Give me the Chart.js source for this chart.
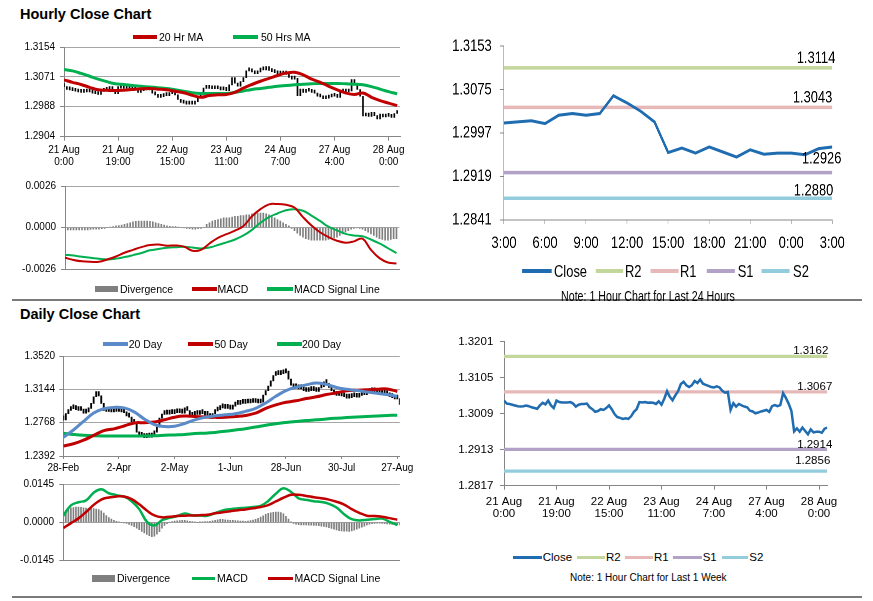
<!DOCTYPE html>
<html>
<head>
<meta charset="utf-8">
<script src="https://cdn.jsdelivr.net/npm/chart.js@4.4.1/dist/chart.umd.min.js"></script>
<style>
  html, body { margin:0; padding:0; background:#fff; }
  body { position:relative; width:873px; height:601px; overflow:hidden; font-family:"Liberation Sans", Arial, Helvetica, sans-serif; color:#000; }
  canvas { position:absolute; }
  .t { position:absolute; white-space:nowrap; }
  .sep { position:absolute; left:12px; width:850px; height:1.5px; background:#7a7a7a; }
</style>
</head>
<body>
<div class="t" style="left:20px;top:6.5px;font-size:14.5px;line-height:14.5px;font-weight:bold;">Hourly Close Chart</div>
<div class="t" style="left:20px;top:306.5px;font-size:14.5px;line-height:14.5px;font-weight:bold;">Daily Close Chart</div>
<div class="sep" style="top:299px"></div>
<div class="sep" style="top:596px"></div>
<div id="tr" style="position:absolute;left:440px;top:0;width:553px;height:305px;transform:scaleX(0.76);transform-origin:0 0;"></div>
<script>
// ================= DATA =================
// Hourly (21 Aug 0:00 -> 28 Aug 3:00), one value per hour
const hourTickIdx = [0, 19, 38, 57, 76, 95, 114];
const hourTickLabels = [['21 Aug','0:00'],['21 Aug','19:00'],['22 Aug','15:00'],['23 Aug','11:00'],['24 Aug','7:00'],['27 Aug','4:00'],['28 Aug','0:00']];
const hourlyClose = [
  1.3044,1.3036,1.3035,1.3033,1.3031,1.3029,1.3028,1.3029,1.3031,1.3029,
  1.3026,1.3024,1.3022,1.3031,1.3038,1.3034,1.3044,1.3031,1.3024,1.3044,
  1.3040,1.3039,1.3039,1.3039,1.3040,1.3036,1.3028,1.3033,1.3035,1.3035,
  1.3036,1.3026,1.3021,1.3014,1.3016,1.3021,1.3019,1.3024,1.3031,1.3021,
  1.3008,1.3000,1.2998,1.2995,1.2997,1.2995,1.3002,1.3014,1.3021,1.3040,
  1.3039,1.3040,1.3038,1.3039,1.3038,1.3035,1.3042,1.3033,1.3049,1.3069,
  1.3054,1.3045,1.3058,1.3069,1.3088,1.3094,1.3085,1.3080,1.3085,1.3096,
  1.3091,1.3100,1.3089,1.3086,1.3083,1.3080,1.3079,1.3082,1.3079,1.3070,
  1.3065,1.3067,1.3019,1.3037,1.3028,1.3035,1.3031,1.3028,1.3026,1.3017,
  1.3015,1.3010,1.3012,1.3015,1.3017,1.3019,1.3014,1.3029,1.3032,1.3029,
  1.3032,1.3064,1.3051,1.3036,1.3017,1.2962,1.2970,1.2961,1.2972,1.2963,
  1.2954,1.2967,1.2959,1.2961,1.2961,1.2958,1.2969,1.2972
];
const hourMaNames = ['20 Hr MA', '50 Hrs MA'];
const hourMaStep = 3; // one reading every 3 hours
const hourMa20 = [1.3063,1.3056,1.3050,1.3042,1.3035,1.3034,1.3033,1.3034,1.3036,1.3038,1.3039,1.3037,1.3035,1.3031,1.3027,1.3020,1.3014,1.3019,1.3021,1.3022,1.3028,1.3040,1.3050,1.3059,1.3067,1.3075,1.3082,1.3084,1.3077,1.3065,1.3056,1.3045,1.3035,1.3026,1.3022,1.3026,1.3014,1.3005,1.2998,1.2991];
const hourMa50 = [1.3092,1.3088,1.3081,1.3073,1.3065,1.3058,1.3052,1.3050,1.3047,1.3045,1.3043,1.3041,1.3039,1.3035,1.3031,1.3027,1.3025,1.3025,1.3025,1.3025,1.3028,1.3032,1.3036,1.3039,1.3042,1.3045,1.3047,1.3049,1.3051,1.3052,1.3053,1.3053,1.3053,1.3052,1.3051,1.3049,1.3044,1.3037,1.3030,1.3024];
const macdNames = ['Divergence', 'MACD', 'MACD Signal Line'];
const hourMacd = [-0.00190,-0.00203,-0.00212,-0.00215,-0.00215,-0.00200,-0.00182,-0.00158,-0.00140,-0.00123,-0.00110,-0.00107,-0.00114,-0.00113,-0.00120,-0.00145,-0.00140,-0.00100,-0.00065,-0.00042,-0.00020,0.00010,0.00070,0.00115,0.00145,0.00147,0.00142,0.00125,0.00065,0.00012,-0.00030,-0.00060,-0.00083,-0.00095,-0.00087,-0.00070,-0.00140,-0.00192,-0.00219,-0.00225];
const hourSignal = [-0.00170,-0.00176,-0.00183,-0.00189,-0.00196,-0.00200,-0.00195,-0.00185,-0.00173,-0.00160,-0.00143,-0.00135,-0.00127,-0.00123,-0.00120,-0.00125,-0.00131,-0.00125,-0.00110,-0.00093,-0.00075,-0.00050,-0.00015,0.00030,0.00065,0.00088,0.00108,0.00115,0.00105,0.00075,0.00041,0.00005,-0.00018,-0.00040,-0.00050,-0.00055,-0.00075,-0.00100,-0.00130,-0.00160];
const hourDivergence = [
  -0.00015,-0.00015,-0.00015,-0.00015,-0.00015,-0.00015,-0.00015,-0.00015,-0.00015,-0.00012,
  -0.0001,-0.0001,-0.0001,-0.00008,-0.00005,0,0.00003,0.00006,0.0001,0.00012,
  0.00015,0.0002,0.00025,0.0003,0.00035,0.00038,0.0004,0.0004,0.0004,0.0004,
  0.00038,0.00035,0.0003,0.00025,0.0002,0.00015,0.0001,0.00008,0.00005,0.00005,
  0.00003,0,-0.00003,-0.00005,-0.00008,-0.0001,-0.0001,-0.00008,-0.00005,0,
  0.0002,0.0003,0.0004,0.00045,0.0005,0.00055,0.0006,0.0006,0.0006,0.00065,
  0.0007,0.0007,0.00075,0.00075,0.0008,0.0008,0.00085,0.0009,0.0009,0.0009,
  0.0009,0.00085,0.0008,0.0007,0.0006,0.0005,0.0004,0.0003,0.0002,0.0001,
  -0.00005,-0.0002,-0.00035,-0.0005,-0.0006,-0.0007,-0.00075,-0.0008,-0.0008,-0.0008,
  -0.0008,-0.0008,-0.0008,-0.00075,-0.0007,-0.00065,-0.0006,-0.0005,-0.0004,-0.0003,
  -0.0002,-0.0001,-0.00005,-0.00003,-0.00005,-0.0001,-0.0002,-0.0003,-0.0004,-0.0005,
  -0.0006,-0.0007,-0.00075,-0.0008,-0.0008,-0.00075,-0.0007,-0.0007
];
const hourPriceTicks = [1.2904, 1.2988, 1.3071, 1.3154];
const hourMacdTicks = [-0.0026, 0, 0.0026];

// Daily (28-Feb -> 28-Aug), one value per trading day
const dayTickIdx = [0, 22, 44, 66, 88, 110, 132];
const dayTickLabels = ['28-Feb','2-Apr','2-May','1-Jun','28-Jun','30-Jul','27-Aug'];
const dailyClose = [
  1.2800,1.2870,1.2905,1.2925,1.2940,1.2915,1.2905,1.2910,1.2875,1.2890,
  1.2930,1.2985,1.3060,1.3120,1.3070,1.2985,1.2905,1.2895,1.2900,1.2890,
  1.2900,1.2895,1.2905,1.2890,1.2880,1.2845,1.2830,1.2780,1.2760,1.2660,
  1.2620,1.2615,1.2600,1.2620,1.2605,1.2630,1.2660,1.2720,1.2820,1.2860,
  1.2870,1.2865,1.2880,1.2870,1.2885,1.2880,1.2890,1.2875,1.2935,1.2905,
  1.2840,1.2850,1.2870,1.2860,1.2880,1.2870,1.2850,1.2870,1.2820,1.2870,
  1.2900,1.2915,1.2950,1.2935,1.2930,1.2940,1.2920,1.2955,1.2985,1.2975,
  1.3000,1.2985,1.2995,1.2990,1.3000,1.2995,1.3005,1.2990,1.3000,1.3080,
  1.3130,1.3180,1.3240,1.3300,1.3320,1.3310,1.3320,1.3330,1.3350,1.3260,
  1.3190,1.3160,1.3165,1.3150,1.3155,1.3130,1.3120,1.3145,1.3130,1.3150,
  1.3120,1.3160,1.3175,1.3230,1.3210,1.3165,1.3130,1.3090,1.3075,1.3085,
  1.3070,1.3060,1.3045,1.3050,1.3060,1.3065,1.3055,1.3075,1.3090,1.3085,
  1.3105,1.3120,1.3115,1.3125,1.3110,1.3120,1.3100,1.3095,1.3085,1.3060,
  1.3050,1.3035,1.3040,1.2975
];
const dayMaNames = ['20 Day', '50 Day', '200 Day'];
const dayMaStep = 4; // one reading every 4 days
const dayMa20 = [1.2603,1.2685,1.2782,1.2876,1.2925,1.2940,1.2935,1.2890,1.2810,1.2745,1.2725,1.2728,1.2758,1.2800,1.2830,1.2845,1.2856,1.2868,1.2895,1.2930,1.2990,1.3065,1.3130,1.3168,1.3195,1.3215,1.3200,1.3165,1.3144,1.3132,1.3114,1.3100,1.3085,1.3062];
const dayMa50 = [1.2505,1.2530,1.2570,1.2625,1.2678,1.2698,1.2730,1.2765,1.2768,1.2775,1.2800,1.2830,1.2842,1.2838,1.2833,1.2828,1.2828,1.2838,1.2850,1.2875,1.2928,1.2968,1.2998,1.3015,1.3040,1.3060,1.3085,1.3105,1.3128,1.3134,1.3138,1.3145,1.3148,1.3120];
const dayMa200 = [1.2648,1.2635,1.2625,1.2620,1.2618,1.2618,1.2618,1.2618,1.2618,1.2620,1.2625,1.2630,1.2635,1.2645,1.2650,1.2658,1.2670,1.2685,1.2700,1.2718,1.2740,1.2755,1.2770,1.2782,1.2792,1.2800,1.2810,1.2818,1.2825,1.2832,1.2838,1.2843,1.2848,1.2853];
const dayMacdStep = 3; // one reading every 3 days
const dayMacd = [0.0025,0.0064,0.0076,0.0083,0.0112,0.0125,0.0110,0.0103,0.0097,0.0080,0.0050,0.0003,-0.0012,0.0008,0.0017,0.0024,0.0033,0.0027,0.0026,0.0025,0.0035,0.0045,0.0050,0.0053,0.0055,0.0058,0.0062,0.0081,0.0108,0.0129,0.0115,0.0091,0.0085,0.0080,0.0077,0.0070,0.0056,0.0031,0.0012,0.0007,0.0010,0.0013,0.0014,0.0002,-0.0010];
const daySignal = [-0.0022,-0.0003,0.0015,0.0039,0.0066,0.0086,0.0094,0.0098,0.0098,0.0088,0.0068,0.0045,0.0026,0.0019,0.0021,0.0024,0.0025,0.0026,0.0027,0.0029,0.0034,0.0038,0.0042,0.0046,0.0049,0.0053,0.0058,0.0065,0.0079,0.0093,0.0104,0.0104,0.0100,0.0095,0.0091,0.0086,0.0078,0.0067,0.0050,0.0036,0.0025,0.0024,0.0021,0.0016,0.0010];
const dayDivergence = [
  0.0040,0.0045,0.0050,0.0055,0.0056,0.0058,0.0058,0.0057,0.0055,0.0054,
  0.0053,0.0052,0.0052,0.0050,0.0048,0.0044,0.0035,0.0026,0.0018,0.0012,
  0.0008,0.0004,0.0002,0.0000,-0.0002,-0.0004,-0.0008,-0.0012,-0.0016,-0.0022,
  -0.0028,-0.0034,-0.0040,-0.0046,-0.0050,-0.0054,-0.0052,-0.0045,-0.0035,-0.0022,
  -0.0012,-0.0005,0.0000,0.0003,0.0005,0.0006,0.0007,0.0008,0.0008,0.0006,
  0.0004,0.0003,0.0002,0.0000,0.0001,0.0002,0.0003,0.0003,0.0004,0.0006,
  0.0008,0.0010,0.0011,0.0011,0.0010,0.0009,0.0008,0.0008,0.0007,0.0006,
  0.0005,0.0005,0.0004,0.0005,0.0007,0.0009,0.0011,0.0015,0.0020,0.0025,
  0.0030,0.0034,0.0036,0.0038,0.0039,0.0039,0.0037,0.0032,0.0023,0.0012,
  0.0002,-0.0004,-0.0007,-0.0009,-0.0010,-0.0010,-0.0010,-0.0011,-0.0011,-0.0012,
  -0.0012,-0.0013,-0.0014,-0.0015,-0.0017,-0.0020,-0.0023,-0.0026,-0.0029,-0.0031,
  -0.0032,-0.0033,-0.0033,-0.0034,-0.0032,-0.0030,-0.0026,-0.0022,-0.0018,-0.0014,
  -0.0010,-0.0007,-0.0005,-0.0004,-0.0003,-0.0003,-0.0004,-0.0005,-0.0006,-0.0007,
  -0.0008,-0.0009,-0.0010,-0.0010
];
const dayPriceTicks = [1.2392, 1.2768, 1.3144, 1.3520];
const dayMacdTicks = [-0.0145, 0, 0.0145];

// Pivot charts
const closeName = 'Close';
const levelNames = ['R2', 'R1', 'S1', 'S2'];
const last24Start = 93; // 27 Aug 3:00 within hourlyClose
const last24TickIdx = [0, 3, 6, 9, 12, 15, 18, 21, 24];
const last24TickLabels = ['3:00','6:00','9:00','12:00','15:00','18:00','21:00','0:00','3:00'];
const last24Ticks = [1.2841, 1.2919, 1.2997, 1.3075, 1.3153];
const levels24 = [1.3114, 1.3043, 1.2926, 1.2880];
const weekTicks = [1.2817, 1.2913, 1.3009, 1.3105, 1.3201];
const levelsWeek = [1.3162, 1.3067, 1.2914, 1.2856];

// ================= STYLE / HELPERS =================
const FONT = '"Liberation Sans", Arial, Helvetica, sans-serif';
const AXIS = '#868686', GRID = '#a6a6a6';
const RED = '#C00000', GREEN = '#00B050', BLUE = '#5A8BC8', CLOSE_C = '#1F6CB0', GRAY = '#7F7F7F';
const LEVEL_COLORS = ['#C3D69B', '#E6B9B8', '#B3A2C7', '#93CDDD'];
Chart.defaults.font.family = FONT;
Chart.defaults.color = '#000';

const stepPts = (arr, step) => arr.map((v, k) => ({ x: k * step, y: v }));
const idxPts = (arr) => arr.map((v, k) => ({ x: k, y: v }));
const movePts = (arr) => arr.map((v, k) => ({ x: k, y: [k ? arr[k - 1] : v, v] }));
const flat = (v, max) => [{ x: 0, y: v }, { x: max, y: v }];

function yAxis(min, max, ticks, o) {
  return {
    type: 'linear', position: 'left', min, max,
    afterBuildTicks: s => { s.ticks = ticks.map(v => ({ value: v })); },
    afterFit: s => { s.width = o.w; },
    ticks: { font: { family: FONT, size: o.fs }, color: '#000', padding: o.pad, callback: v => Number(v).toFixed(4) },
    grid: { drawOnChartArea: !!o.grid, color: GRID, lineWidth: 1, drawTicks: true, tickLength: o.tl, tickColor: AXIS, tickWidth: 1 },
    border: { display: true, color: AXIS, width: 1 }
  };
}
function xAxis(max, idx, labels, o) {
  return {
    type: 'linear', position: 'bottom', min: 0, max, offset: false,
    afterBuildTicks: s => { s.ticks = idx.map(v => ({ value: v })); },
    afterFit: s => { s.height = o.h; },
    ticks: { display: !!labels, autoSkip: false, maxRotation: 0, minRotation: 0, padding: o.pad || 0,
             font: { family: FONT, size: o.fs || 10, lineHeight: o.lh || 1.2 }, color: '#000',
             callback: v => labels ? labels[idx.indexOf(v)] : '' },
    grid: { drawOnChartArea: false, drawTicks: !!o.tl, tickLength: o.tl || 0, tickColor: AXIS, offset: false },
    border: { display: true, color: AXIS, width: 1 }
  };
}
function opts(pad, x, y, dpr) {
  const o = { responsive: false, animation: false, events: [], layout: { padding: pad },
    plugins: { legend: { display: false }, tooltip: { enabled: false } }, scales: { x, y } };
  if (dpr) o.devicePixelRatio = dpr;
  return o;
}
function makeCanvas(parent, left, top, w, h) {
  const c = document.createElement('canvas');
  c.width = w; c.height = h;
  c.style.left = left + 'px'; c.style.top = top + 'px';
  parent.appendChild(c);
  return c;
}
function levelLabelPlugin(values, size, dx, dy) {
  return {
    id: 'levelLabels',
    afterDatasetsDraw(chart) {
      const { ctx, chartArea, scales } = chart;
      ctx.save();
      ctx.font = size + 'px ' + FONT;
      ctx.fillStyle = '#000'; ctx.textAlign = 'right'; ctx.textBaseline = 'alphabetic';
      values.forEach((v, k) => ctx.fillText(v.toFixed(4), chartArea.right + dx[k], scales.y.getPixelForValue(v) - dy[k]));
      ctx.restore();
    }
  };
}
// HTML legend built from the chart's own datasets
function htmlLegend(parent, chart, layout, cy, fs) {
  layout.forEach(it => {
    const ds = chart.data.datasets[it.ds];
    const sw = document.createElement('div');
    sw.style.cssText = `position:absolute;left:${it.x}px;top:${cy - it.h / 2}px;width:${it.w}px;height:${it.h}px;background:${ds.legendColor || ds.borderColor || ds.backgroundColor};`;
    parent.appendChild(sw);
    const tx = document.createElement('div');
    tx.className = 't';
    tx.textContent = ds.label;
    tx.style.left = it.tx + 'px';
    tx.style.top = (cy - fs * 0.5) + 'px';
    tx.style.fontSize = fs + 'px';
    tx.style.lineHeight = fs + 'px';
    parent.appendChild(tx);
  });
}
function noteText(parent, text, cx, cy, fs) {
  const d = document.createElement('div');
  d.className = 't';
  d.textContent = text;
  d.style.cssText += `left:${cx - 200}px;width:400px;text-align:center;top:${cy - fs * 0.5}px;font-size:${fs}px;line-height:${fs}px;`;
  parent.appendChild(d);
}
const body = document.body;

// ================= A: Hourly close chart =================
const chA = new Chart(makeCanvas(body, 0, 34, 420, 140), {
  type: 'bar',
  data: { datasets: [
    { type: 'line', label: hourMaNames[0], data: stepPts(hourMa20, hourMaStep), borderColor: RED, borderWidth: 3, pointRadius: 0, tension: 0.4, order: 1 },
    { type: 'line', label: hourMaNames[1], data: stepPts(hourMa50, hourMaStep), borderColor: GREEN, borderWidth: 3, pointRadius: 0, tension: 0.4, order: 2 },
    { type: 'bar', label: 'Price', data: movePts(hourlyClose), backgroundColor: '#000', barThickness: 1, minBarLength: 3, order: 3 }
  ] },
  options: opts({ left: 0, top: 13.3, right: 20, bottom: 0 },
    xAxis(118, hourTickIdx, hourTickLabels, { h: 37.3, tl: 4, pad: 4.2, fs: 10, lh: 1.16 }),
    yAxis(hourPriceTicks[0], hourPriceTicks[3], hourPriceTicks, { w: 64, fs: 10, pad: 5, tl: 4, grid: true }))
});
htmlLegend(body, chA, [
  { ds: 0, x: 133.3, w: 23.4, h: 4, tx: 159 },
  { ds: 1, x: 233.3, w: 25, h: 4, tx: 261 }
], 37.3, 10.5);

// ================= B: Hourly MACD =================
const chB = new Chart(makeCanvas(body, 0, 172, 420, 108), {
  type: 'bar',
  data: { datasets: [
    { type: 'bar', label: macdNames[0], data: idxPts(hourDivergence), backgroundColor: GRAY, barThickness: 1, order: 3 },
    { type: 'line', label: macdNames[1], data: stepPts(hourMacd, hourMaStep), borderColor: RED, borderWidth: 2, pointRadius: 0, tension: 0.4, order: 1 },
    { type: 'line', label: macdNames[2], data: stepPts(hourSignal, hourMaStep), borderColor: GREEN, borderWidth: 2, pointRadius: 0, tension: 0.4, order: 2 }
  ] },
  options: opts({ left: 0, top: 14, right: 20.7, bottom: 0 },
    xAxis(118, [], null, { h: 9.3, tl: 0 }),
    yAxis(hourMacdTicks[0], hourMacdTicks[2], hourMacdTicks, { w: 65, fs: 10, pad: 5, tl: 4, grid: true }))
});
htmlLegend(body, chB, [
  { ds: 0, x: 95, w: 23.3, h: 6.7, tx: 120 },
  { ds: 1, x: 191.7, w: 25, h: 3.5, tx: 217.5 },
  { ds: 2, x: 266.7, w: 26.6, h: 3.5, tx: 294 }
], 289, 10.5);

// ================= C: Last 24 hours pivot chart (horizontally condensed) =================
const tr = document.getElementById('tr');
const last24 = hourlyClose.slice(last24Start);
const chC = new Chart(makeCanvas(tr, 0, 25, 553, 240), {
  type: 'line',
  data: { datasets: [
    { label: closeName, data: idxPts(last24), borderColor: CLOSE_C, borderWidth: 3, pointRadius: 0, tension: 0, order: 0 },
    ...levelNames.map((n, k) => ({ label: n, data: flat(levels24[k], 24), borderColor: LEVEL_COLORS[k], borderWidth: 3.5, pointRadius: 0, order: 1 + k }))
  ] },
  options: opts({ left: 0, top: 14, right: 36.8, bottom: 0 },
    xAxis(24, last24TickIdx, last24TickLabels, { h: 45, tl: 4, pad: 9.1, fs: 17, lh: 1.2 }),
    yAxis(last24Ticks[0], last24Ticks[4], last24Ticks, { w: 84.2, fs: 17, pad: 10.9, tl: 5.3, grid: false }), 2),
  plugins: [levelLabelPlugin(levels24, 17, [4, 0, 12, 1.3], [4.7, 5, 9, 3])]
});
htmlLegend(tr, chC, [
  { ds: 0, x: 107.5, w: 39.5, h: 3.5, tx: 150 },
  { ds: 1, x: 204.9, w: 36.5, h: 3.5, tx: 243.4 },
  { ds: 2, x: 277.2, w: 36.4, h: 3.5, tx: 315.8 },
  { ds: 3, x: 350.9, w: 37.3, h: 3.5, tx: 391.7 },
  { ds: 4, x: 423.3, w: 37.2, h: 3.5, tx: 464.5 }
], 271, 17);
noteText(tr, 'Note: 1 Hour Chart for Last 24 Hours', 273.7, 295.5, 14);

// ================= D: Daily close chart =================
const chD = new Chart(makeCanvas(body, 0, 344, 420, 132), {
  type: 'bar',
  data: { datasets: [
    { type: 'line', label: dayMaNames[0], data: stepPts(dayMa20, dayMaStep), borderColor: BLUE, borderWidth: 3, pointRadius: 0, tension: 0.4, order: 1 },
    { type: 'line', label: dayMaNames[1], data: stepPts(dayMa50, dayMaStep), borderColor: RED, borderWidth: 3, pointRadius: 0, tension: 0.4, order: 2 },
    { type: 'line', label: dayMaNames[2], data: stepPts(dayMa200, dayMaStep), borderColor: GREEN, borderWidth: 3, pointRadius: 0, tension: 0.4, order: 3 },
    { type: 'bar', label: 'Price', data: movePts(dailyClose), backgroundColor: '#000', barThickness: 1.2, minBarLength: 4, order: 4 }
  ] },
  options: opts({ left: 0, top: 12, right: 20.2, bottom: 0 },
    xAxis(133, dayTickIdx, dayTickLabels, { h: 20, tl: 3, pad: 3.3, fs: 10, lh: 1.2 }),
    yAxis(dayPriceTicks[0], dayPriceTicks[3], dayPriceTicks, { w: 63.3, fs: 10, pad: 4.3, tl: 4, grid: true }))
});
htmlLegend(body, chD, [
  { ds: 0, x: 102.7, w: 25.6, h: 4, tx: 128.7 },
  { ds: 1, x: 188.3, w: 25, h: 4, tx: 214.5 },
  { ds: 2, x: 276.7, w: 25, h: 4, tx: 302 }
], 344, 10.5);

// ================= E: Daily MACD =================
const chE = new Chart(makeCanvas(body, 0, 472, 420, 100), {
  type: 'bar',
  data: { datasets: [
    { type: 'bar', label: macdNames[0], data: idxPts(dayDivergence), backgroundColor: GRAY, barThickness: 1, order: 3 },
    { type: 'line', label: macdNames[1], data: stepPts(dayMacd, dayMacdStep), borderColor: GREEN, borderWidth: 2.5, pointRadius: 0, tension: 0.4, order: 2 },
    { type: 'line', label: macdNames[2], data: stepPts(daySignal, dayMacdStep), borderColor: RED, borderWidth: 2.5, pointRadius: 0, tension: 0.4, order: 1 }
  ] },
  options: opts({ left: 0, top: 12, right: 20.2, bottom: 0 },
    xAxis(133, [], null, { h: 8.7, tl: 0 }),
    yAxis(dayMacdTicks[0], dayMacdTicks[2], dayMacdTicks, { w: 63.3, fs: 10, pad: 5.3, tl: 4, grid: true }))
});
htmlLegend(body, chE, [
  { ds: 0, x: 91.7, w: 23.3, h: 6.7, tx: 117 },
  { ds: 1, x: 191.7, w: 23.3, h: 3.5, tx: 217 },
  { ds: 2, x: 268.3, w: 25, h: 3.5, tx: 294.5 }
], 578.3, 10.5);

// ================= F: Last week pivot chart =================
const chF = new Chart(makeCanvas(body, 440, 328, 420, 202), {
  type: 'line',
  data: { datasets: [
    { label: closeName, data: idxPts(hourlyClose), borderColor: CLOSE_C, borderWidth: 2.5, pointRadius: 0, tension: 0, order: 0 },
    ...levelNames.map((n, k) => ({ label: n, data: flat(levelsWeek[k], 117), borderColor: LEVEL_COLORS[k], borderWidth: 3.3, pointRadius: 0, order: 1 + k }))
  ] },
  options: opts({ left: 0, top: 13.7, right: 32.7, bottom: 0 },
    xAxis(117, hourTickIdx, hourTickLabels, { h: 44.3, tl: 4, pad: 5.8, fs: 11.5, lh: 1.07 }),
    yAxis(weekTicks[0], weekTicks[4], weekTicks, { w: 64, fs: 11.5, pad: 6.7, tl: 4, grid: false })),
  plugins: [levelLabelPlugin(levelsWeek, 11.5, [1, 5, 5, 3], [2.7, 2.3, 1.7, 7.3])]
});
htmlLegend(body, chF, [
  { ds: 0, x: 513.3, w: 28.4, h: 3.3, tx: 542.7 },
  { ds: 1, x: 576.7, w: 28.3, h: 3.3, tx: 606 },
  { ds: 2, x: 625, w: 28.3, h: 3.3, tx: 654 },
  { ds: 3, x: 673.3, w: 28.4, h: 3.3, tx: 702.7 },
  { ds: 4, x: 721.7, w: 26.6, h: 3.3, tx: 749.3 }
], 557.3, 11.5);
noteText(body, 'Note: 1 Hour Chart for  Last 1 Week', 648.3, 578.3, 10);
</script>
</body>
</html>
